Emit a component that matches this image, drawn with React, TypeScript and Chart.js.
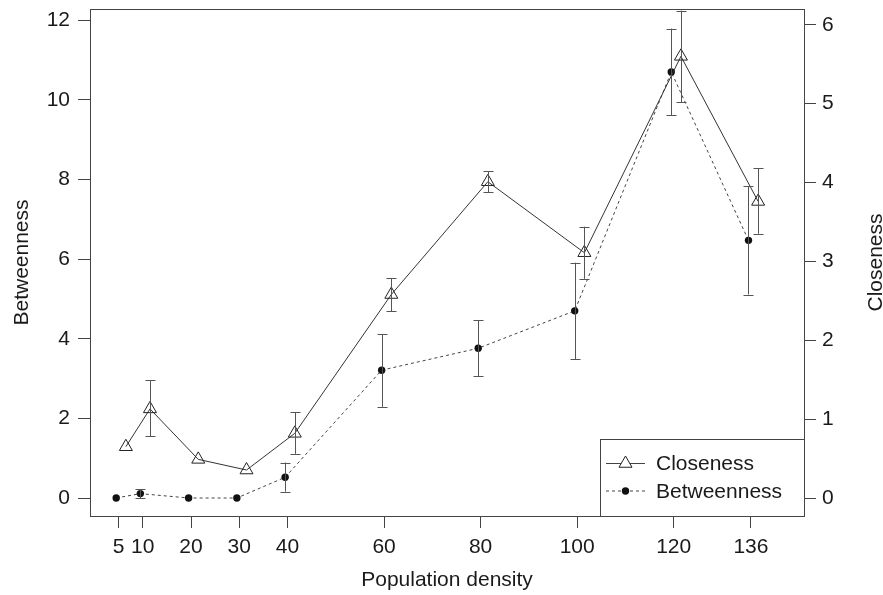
import React, { useEffect, useRef } from "react";
import { Chart, registerables } from "chart.js";

Chart.register(...registerables);

// ---- data ----
const densities = [5, 10, 20, 30, 40, 60, 80, 100, 120, 136];
const xTickValues = [5, 10, 20, 30, 40, 60, 80, 100, 120, 136];
const leftTickValues = [0, 2, 4, 6, 8, 10, 12];
const rightTickValues = [0, 1, 2, 3, 4, 5, 6];

const betweenness = [0, 0.11, 0, 0, 0.52, 3.21, 3.76, 4.7, 10.7, 6.47];
const betweennessLo = [null, 0.0, null, null, 0.16, 2.29, 3.06, 3.48, 9.61, 5.11];
const betweennessHi = [null, 0.22, null, null, 0.89, 4.12, 4.47, 5.91, 11.79, 7.83];

const closeness = [0.65, 1.13, 0.49, 0.355, 0.82, 2.58, 4.01, 3.11, 5.6, 3.76];
const closenessLo = [null, 0.78, null, null, 0.56, 2.37, 3.88, 2.78, 5.02, 3.35];
const closenessHi = [null, 1.49, null, null, 1.09, 2.79, 4.14, 3.44, 6.18, 4.18];

const betweennessDodge = -0.5;
const closenessDodge = 1.5;

const FONT = '"Liberation Sans", Arial, Helvetica, sans-serif';
const FS = 21;

export default function App() {
  const ref = useRef<HTMLCanvasElement | null>(null);

  useEffect(() => {
    if (!ref.current) return;
    Chart.defaults.font.family = FONT;
    Chart.defaults.font.size = FS;
    Chart.defaults.color = "#1a1a1a";

    const errorBars = {
      id: "errorBars",
      afterDatasetsDraw(chart: any) {
        const { ctx, scales } = chart;
        const xs = scales.x;
        const draw = (lo: any[], hi: any[], dodge: number, ys: any) => {
          ctx.save();
          ctx.strokeStyle = "#555";
          ctx.lineWidth = 1;
          densities.forEach((d, i) => {
            if (lo[i] == null || hi[i] == null) return;
            const x = Math.round(xs.getPixelForValue(d + dodge)) + 0.5;
            const y1 = ys.getPixelForValue(lo[i]);
            const y2 = ys.getPixelForValue(hi[i]);
            ctx.beginPath();
            ctx.moveTo(x, y1);
            ctx.lineTo(x, y2);
            ctx.moveTo(x - 5, Math.round(y1) + 0.5);
            ctx.lineTo(x + 5, Math.round(y1) + 0.5);
            ctx.moveTo(x - 5, Math.round(y2) + 0.5);
            ctx.lineTo(x + 5, Math.round(y2) + 0.5);
            ctx.stroke();
          });
          ctx.restore();
        };
        draw(betweennessLo, betweennessHi, betweennessDodge, scales.yL);
        draw(closenessLo, closenessHi, closenessDodge, scales.yR);
      },
    };

    const frame = {
      id: "frame",
      afterDraw(chart: any) {
        const { ctx, chartArea: a } = chart;
        ctx.save();
        ctx.strokeStyle = "#444";
        ctx.lineWidth = 1;
        ctx.strokeRect(Math.round(a.left) + 0.5, Math.round(a.top) + 0.5, Math.round(a.right - a.left), Math.round(a.bottom - a.top));

        // legend
        const lw = 204, lh = 77;
        const lx = Math.round(a.right) - lw;
        const ly = Math.round(a.bottom) - lh;
        ctx.fillStyle = "#fff";
        ctx.fillRect(lx, ly, lw, lh);
        ctx.strokeRect(lx + 0.5, ly + 0.5, lw, lh);
        const rows = [
          { label: "Closeness", y: ly + 24.5, dash: [] as number[], tri: true },
          { label: "Betweenness", y: ly + 52, dash: [3, 3], tri: false },
        ];
        rows.forEach((r) => {
          ctx.save();
          ctx.strokeStyle = "#444";
          ctx.setLineDash(r.dash);
          ctx.beginPath();
          ctx.moveTo(lx + 6, r.y);
          ctx.lineTo(lx + 45, r.y);
          ctx.stroke();
          ctx.restore();
          const mx = lx + 25.5;
          if (r.tri) {
            const rad = 7.5;
            ctx.save();
            ctx.fillStyle = "#fff";
            ctx.strokeStyle = "#222";
            ctx.beginPath();
            ctx.moveTo(mx, r.y - rad);
            ctx.lineTo(mx + rad * Math.sin((2 * Math.PI) / 3), r.y + rad / 2);
            ctx.lineTo(mx - rad * Math.sin((2 * Math.PI) / 3), r.y + rad / 2);
            ctx.closePath();
            ctx.fill();
            ctx.stroke();
            ctx.restore();
          } else {
            ctx.save();
            ctx.fillStyle = "#111";
            ctx.beginPath();
            ctx.arc(mx, r.y, 3.7, 0, Math.PI * 2);
            ctx.fill();
            ctx.restore();
          }
          ctx.fillStyle = "#1a1a1a";
          ctx.font = `${FS}px ${FONT}`;
          ctx.textAlign = "left";
          ctx.textBaseline = "middle";
          ctx.fillText(r.label, lx + 56, r.y + 1);
        });

        // axis titles
        ctx.fillStyle = "#1a1a1a";
        ctx.font = `${FS}px ${FONT}`;
        ctx.textAlign = "center";
        ctx.textBaseline = "alphabetic";
        const cy = (a.top + a.bottom) / 2;
        ctx.save();
        ctx.translate(28, cy);
        ctx.rotate(-Math.PI / 2);
        ctx.fillText("Betweenness", 0, 0);
        ctx.restore();
        ctx.save();
        ctx.translate(882, cy);
        ctx.rotate(-Math.PI / 2);
        ctx.fillText("Closeness", 0, 0);
        ctx.restore();
        ctx.fillText("Population density", (a.left + a.right) / 2, 586);
        ctx.restore();
      },
    };

    const tickGrid = { display: true, drawOnChartArea: false, drawTicks: true, tickLength: 12, color: "#444" };
    const noPad = (s: any) => {
      s.paddingTop = 0;
      s.paddingBottom = 0;
      s.paddingLeft = 0;
      s.paddingRight = 0;
    };

    const chart = new Chart(ref.current, {
      type: "line",
      data: {
        datasets: [
          {
            label: "Closeness",
            data: densities.map((d, i) => ({ x: d + closenessDodge, y: closeness[i] })),
            yAxisID: "yR",
            borderColor: "#333",
            borderWidth: 1,
            pointStyle: "triangle",
            pointRadius: 7.5,
            pointBorderColor: "#222",
            pointBackgroundColor: "rgba(0,0,0,0)",
            pointBorderWidth: 1,
            tension: 0,
          },
          {
            label: "Betweenness",
            data: densities.map((d, i) => ({ x: d + betweennessDodge, y: betweenness[i] })),
            yAxisID: "yL",
            borderColor: "#444",
            borderWidth: 1,
            borderDash: [3, 3],
            pointStyle: "circle",
            pointRadius: 3.7,
            pointBorderWidth: 0,
            pointBackgroundColor: "#111",
            tension: 0,
          },
        ],
      },
      options: {
        animation: false,
        responsive: false,
        layout: { padding: { top: 9, left: 0, right: 0, bottom: 0 } },
        plugins: { legend: { display: false }, tooltip: { enabled: false } },
        scales: {
          x: {
            type: "linear",
            position: "bottom",
            min: -0.93,
            max: 147,
            grid: tickGrid,
            border: { display: false },
            ticks: { padding: 7, autoSkip: false, maxRotation: 0, color: "#1a1a1a", callback: (v: any) => String(v) },
            afterBuildTicks: (s: any) => {
              s.ticks = xTickValues.map((v) => ({ value: v }));
            },
            afterFit: (s: any) => {
              s.height = 79;
              noPad(s);
            },
          },
          yL: {
            type: "linear",
            position: "left",
            min: -0.452,
            max: 12.28,
            grid: tickGrid,
            border: { display: false },
            ticks: { padding: 8, color: "#1a1a1a" },
            afterBuildTicks: (s: any) => {
              s.ticks = leftTickValues.map((v) => ({ value: v }));
            },
            afterFit: (s: any) => {
              s.width = 90;
              noPad(s);
            },
          },
          yR: {
            type: "linear",
            position: "right",
            min: -0.228,
            max: 6.2,
            grid: tickGrid,
            border: { display: false },
            ticks: { padding: 6, color: "#1a1a1a" },
            afterBuildTicks: (s: any) => {
              s.ticks = rightTickValues.map((v) => ({ value: v }));
            },
            afterFit: (s: any) => {
              s.width = 79;
              noPad(s);
            },
          },
        },
      },
      plugins: [errorBars, frame],
    } as any);
    return () => chart.destroy();
  }, []);

  return (
    <div style={{ position: "fixed", left: 0, top: 0, width: 883, height: 595, background: "#fff" }}>
      <canvas ref={ref} width={883} height={595} style={{ display: "block" }} />
    </div>
  );
}
